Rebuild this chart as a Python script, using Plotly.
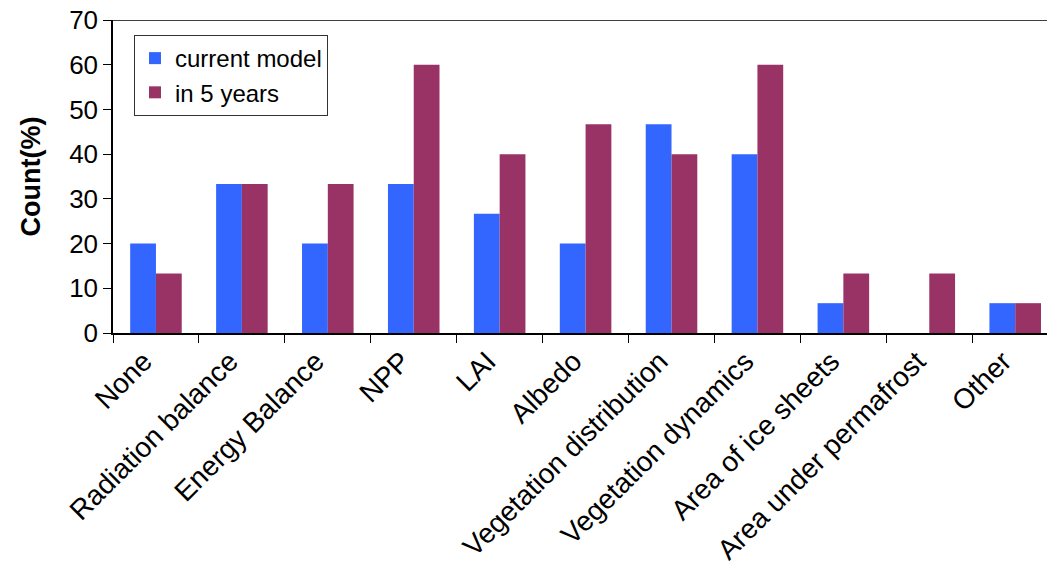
import plotly.graph_objects as go

categories = ["None", "Radiation balance", "Energy Balance", "NPP", "LAI", "Albedo",
              "Vegetation distribution", "Vegetation dynamics", "Area of ice sheets",
              "Area under permafrost", "Other"]
current_model = [20.0, 33.33, 20.0, 33.33, 26.67, 20.0, 46.67, 40.0, 6.67, 0.0, 6.67]
in_5_years = [13.33, 33.33, 33.33, 60.0, 40.0, 46.67, 40.0, 60.0, 13.33, 13.33, 6.67]
y_ticks = [0, 10, 20, 30, 40, 50, 60, 70]

fig = go.Figure()
fig.add_trace(go.Bar(x=categories, y=current_model, name="current model",
                     marker=dict(color="#3366FF", line=dict(width=0))))
fig.add_trace(go.Bar(x=categories, y=in_5_years, name="in 5 years",
                     marker=dict(color="#993366", line=dict(width=0))))

fig.update_layout(
    width=1047, height=563,
    margin=dict(l=113, r=0, t=20, b=230, autoexpand=False),
    paper_bgcolor="white", plot_bgcolor="white",
    barmode="group", bargap=0.4, bargroupgap=0,
    font=dict(family="Liberation Sans, Arial", color="black"),
    showlegend=True,
    legend=dict(x=0.0225, y=0.952, xanchor="left", yanchor="top",
                bordercolor="#333333", borderwidth=1, bgcolor="white",
                font=dict(size=24), itemwidth=30, tracegroupgap=0),
    xaxis=dict(range=[-0.5, 10.37], tickangle=-45, tickfont=dict(size=28),
               showline=True, linecolor="black", linewidth=1.5,
               ticks="outside", ticklen=8, tickcolor="black", tickson="boundaries",
               ticklabelshift=-12, ticklabelstandoff=-1,
               showgrid=False, automargin=False),
    yaxis=dict(range=[0, 70], tickvals=y_ticks, tickfont=dict(size=26),
               showline=True, linecolor="black", linewidth=1.5,
               ticks="outside", ticklen=8, tickcolor="black",
               showgrid=False, zeroline=False, automargin=False,
               title=dict(text="<b>Count(%)</b>", font=dict(size=27), standoff=21)),
)
fig.add_shape(type="line", xref="paper", yref="y", x0=0, x1=1, y0=70, y1=70,
              line=dict(color="black", width=1.5))

fig.write_html("out.html", config={"displayModeBar": False},
               post_script="document.body.style.margin='0';")
